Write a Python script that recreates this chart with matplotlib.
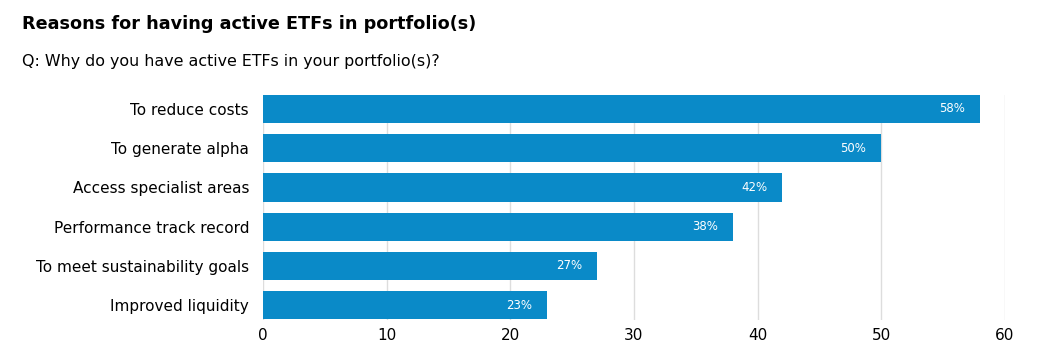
import matplotlib.pyplot as plt

reasons = ["To reduce costs", "To generate alpha", "Access specialist areas",
           "Performance track record", "To meet sustainability goals",
           "Improved liquidity"]
shares = [58, 50, 42, 38, 27, 23]
xticks = [0, 10, 20, 30, 40, 50, 60]

plt.rcParams['font.family'] = ['DejaVu Sans']

fig = plt.figure(figsize=(10.49, 3.62), dpi=100)
ax = fig.add_axes([0.2507, 0.116, 0.7073, 0.622])

ypos = list(range(len(reasons)))
ax.barh(ypos, shares, height=0.72, color='#0a8ac8', zorder=2)
for y, v in zip(ypos, shares):
    ax.text(v - 1.2, y, f"{v}%", color='white', fontsize=8.5,
            ha='right', va='center', family='DejaVu Sans Condensed', zorder=3)

ax.set_xlim(0, 60)
ax.set_ylim(5.38, -0.36)
ax.set_yticks(ypos)
ax.set_yticklabels(reasons, fontsize=11)
ax.set_xticks(xticks)
ax.set_xticklabels([str(t) for t in xticks], fontsize=11)
ax.grid(axis='x', color='#dddddd', linewidth=1, zorder=0)
for s in ax.spines.values():
    s.set_visible(False)
ax.tick_params(length=0)
ax.tick_params(axis='y', pad=10)
ax.tick_params(axis='x', pad=6)

fig.text(0.021, 0.935, "Reasons for having active ETFs in portfolio(s)",
         fontsize=12.7, fontweight='bold', va='center')
fig.text(0.021, 0.83, "Q: Why do you have active ETFs in your portfolio(s)?",
         fontsize=11.4, va='center')

fig.savefig('out.png', dpi=100)
